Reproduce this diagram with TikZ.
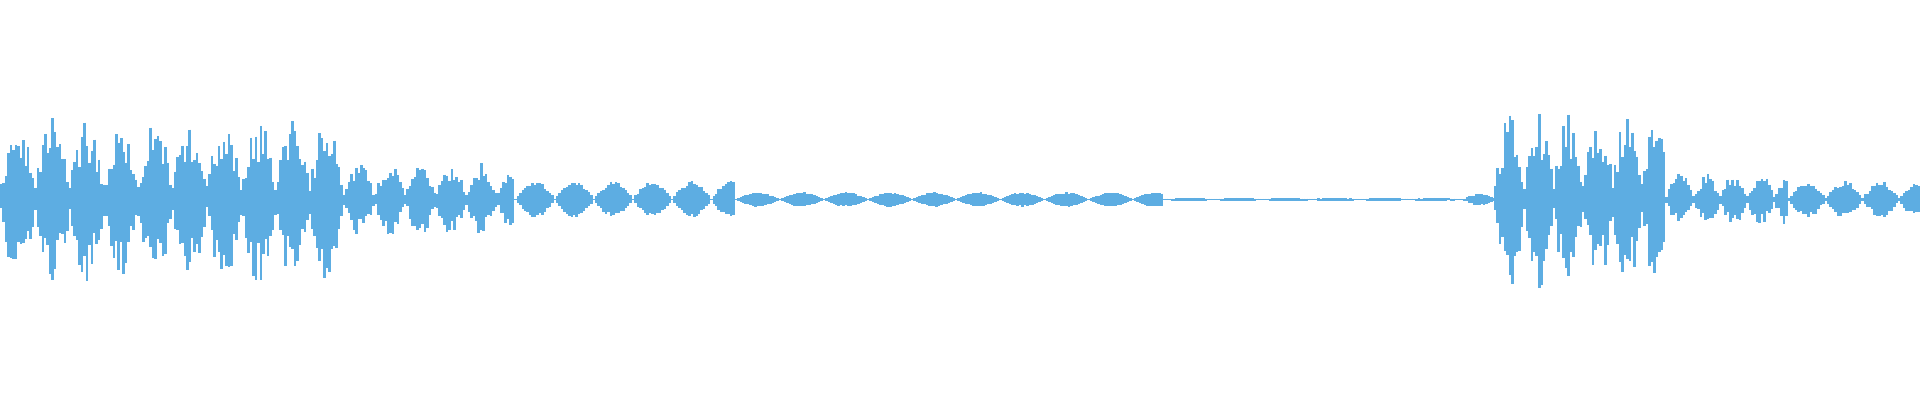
\documentclass[tikz,border=0pt]{standalone}
\definecolor{wave}{HTML}{5DADE2}
\begin{document}
\begin{tikzpicture}[x=1.2245pt,y=1.2245pt]
\useasboundingbox (0,0) rectangle (1568,326.67);
\pgfmathsetseed{7}
\foreach \a/\b/\A/\p/\f/\r in {0/280/68/28/0.2/0.55,280/420/30/25/0.15/0.5,420/600/15/32/0.05/0.25,600/950/6/36/0.05/0.2,950/1195/1.3/40/0.5/0.3,1195/1220/5/25/0.2/0.3,1220/1360/72/24/0.2/0.55,1360/1460/22/22/0.15/0.5,1460/1568/15/30/0.1/0.35}{
  \pgfmathtruncatemacro{\s}{\a+2}
  \pgfmathtruncatemacro{\e}{\b-1}
  \foreach \x in {\a,\s,...,\e}{
    \pgfmathsetmacro{\ph}{mod((\x-\a)/\p,2)}
    \pgfmathsetmacro{\env}{\A*(\f+(1-\f)*abs(sin(180*\ph)))}
    \pgfmathsetmacro{\hu}{max(0.5,\env*(1-\r+\r*rnd))}
    \pgfmathsetmacro{\hd}{max(0.5,\env*(1-\r+\r*rnd))}
    \draw[wave,line width=2.6pt] (\x+1,163.7+\hu) -- (\x+1,163.7-\hd);
  }
}
\end{tikzpicture}
\end{document}
